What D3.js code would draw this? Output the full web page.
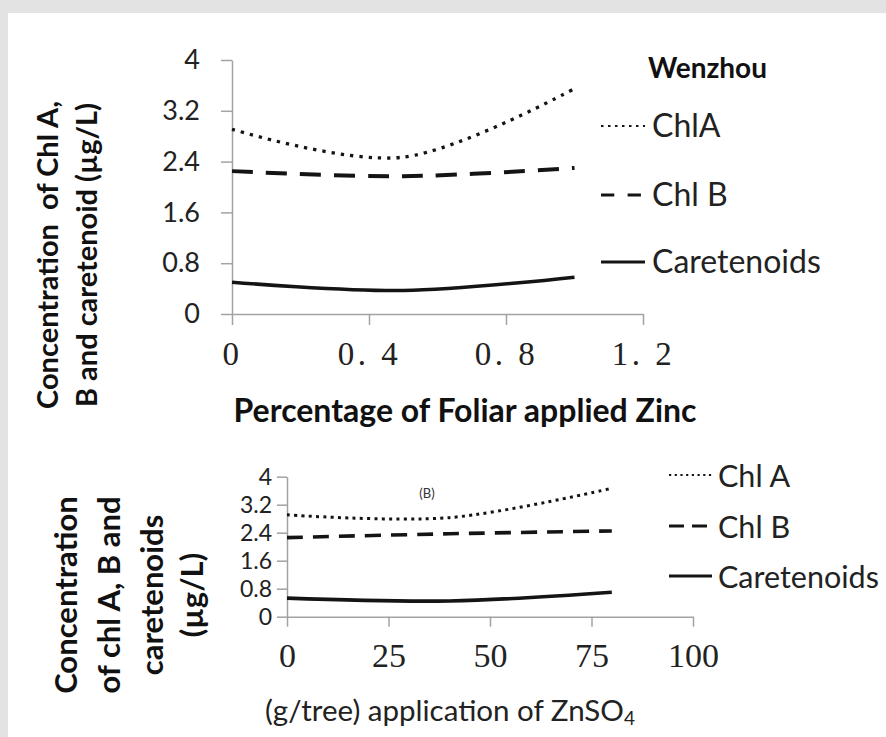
<!DOCTYPE html>
<html>
<head>
<meta charset="utf-8">
<script src="https://cdn.jsdelivr.net/npm/d3@7"></script>
<style>
  html, body { margin: 0; padding: 0; background: #e3e3e3; }
  svg { display: block; }
</style>
</head>
<body>
<svg id="fig" width="886" height="737"></svg>
<script>
// ---- Panel A: foliar zinc (%) ----
const zincPct = [0, 0.5, 1.0];
const chlA_A = [2.91, 2.47, 3.55];
const chlB_A = [2.25, 2.17, 2.30];
const car_A  = [0.50, 0.37, 0.58];
const xTicksA = [0, 0.4, 0.8, 1.2];
const xTickLabelsA = ["0", "0. 4", "0. 8", "1. 2"];
const legendA = ["ChlA", "Chl B", "Caretenoids"];

// ---- Panel B: ZnSO4 per tree (g) ----
const znso4 = [0, 40, 80];
const chlA_B = [2.91, 2.83, 3.67];
const chlB_B = [2.26, 2.37, 2.45];
const car_B  = [0.53, 0.45, 0.70];
const xTicksB = [0, 25, 50, 75, 100];
const legendB = ["Chl A", "Chl B", "Caretenoids"];

// shared concentration axis
const yTicks = [0, 0.8, 1.6, 2.4, 3.2, 4];
const yTickLabels = ["0", "0.8", "1.6", "2.4", "3.2", "4"];

const SANS = "Lato, 'Open Sans', sans-serif";
const SERIF = "'Liberation Serif', 'DejaVu Serif', serif";
const AXIS = "#a3a3a3";
const INK = "#141414";

const svg = d3.select("#fig");
svg.append("rect").attr("x", 8).attr("y", 13).attr("width", 878).attr("height", 724).attr("fill", "#fff");

function styleAxis(g, fontFamily, fontSize) {
  g.select(".domain").attr("stroke", AXIS).attr("stroke-width", 1.5);
  g.selectAll(".tick line").attr("stroke", AXIS).attr("stroke-width", 1.5);
  g.selectAll(".tick text").attr("fill", "#222").style("font-family", fontFamily).style("font-size", fontSize + "px");
}

function drawSeries(g, x, y, xs, series, st) {
  const line = d3.line().x(d => x(d[0])).y(d => y(d[1])).curve(d3.curveCardinal.tension(0));
  series.forEach((vals, i) => {
    const p = g.append("path")
      .datum(xs.map((v, k) => [v, vals[k]]))
      .attr("d", line)
      .attr("fill", "none")
      .attr("stroke", INK)
      .attr("stroke-width", st[i].width);
    if (st[i].dash) p.attr("stroke-dasharray", st[i].dash);
  });
}

// ================= Panel A =================
const xA = d3.scaleLinear().domain([0, 1.2]).range([232, 643]);
const yA = d3.scaleLinear().domain([0, 4]).range([314, 60]);
const gA = svg.append("g");

gA.append("g").attr("transform", `translate(${xA(0)},0)`)
  .call(d3.axisLeft(yA).tickValues(yTicks).tickSize(11).tickSizeOuter(0).tickPadding(21)
    .tickFormat((d, i) => yTickLabels[i]))
  .call(g => styleAxis(g, SANS, 27));

gA.append("g").attr("transform", `translate(0,${yA(0)})`)
  .call(d3.axisBottom(xA).tickValues(xTicksA).tickSize(11).tickSizeOuter(0).tickPadding(17)
    .tickFormat((d, i) => xTickLabelsA[i]))
  .call(g => styleAxis(g, SERIF, 33))
  .call(g => g.selectAll(".tick text").style("white-space", "pre").attr("letter-spacing", 3.5));

drawSeries(gA, xA, yA, zincPct, [chlA_A, chlB_A, car_A], [
  { dash: "3.3 6", width: 3.3 },
  { dash: "21 13", width: 4 },
  { dash: null, width: 3.6 }
]);

// legend A
gA.append("text").attr("x", 648).attr("y", 78).text("Wenzhou")
  .style("font-family", SANS).style("font-weight", 700).style("font-size", "28px").attr("fill", "#111");
const legA = [
  { y: 126, dash: "2.5 4.5", w: 2.2 },
  { y: 195, dash: "13.3 13.3", w: 3 },
  { y: 262, dash: null, w: 3 }
];
legA.forEach((L, i) => {
  const ln = gA.append("line").attr("x1", 601).attr("x2", 645).attr("y1", L.y).attr("y2", L.y)
    .attr("stroke", INK).attr("stroke-width", L.w);
  if (L.dash) ln.attr("stroke-dasharray", L.dash);
  gA.append("text").attr("x", 652).attr("y", L.y + 11).text(legendA[i])
    .style("font-family", SANS).style("font-size", "32px").attr("fill", "#222");
});

// axis titles A
const ytA = gA.append("g").attr("transform", "translate(0,255)");
[["Concentration\u00a0\u00a0of Chl A,", 58], ["B and caretenoid (\u00b5g/L)", 97]].forEach(([t, bx]) => {
  ytA.append("text").attr("transform", `translate(${bx},0) rotate(-90)`).attr("text-anchor", "middle")
    .text(t).style("font-family", SANS).style("font-weight", 700).style("font-size", "29px").attr("fill", "#111");
});
gA.append("text").attr("x", 465).attr("y", 422).attr("text-anchor", "middle")
  .text("Percentage of Foliar applied Zinc")
  .style("font-family", SANS).style("font-weight", 700).style("font-size", "32px").attr("fill", "#111");

// ================= Panel B =================
const xB = d3.scaleLinear().domain([0, 100]).range([287, 693]);
const yB = d3.scaleLinear().domain([0, 4]).range([616.7, 476.7]);
const gB = svg.append("g");

gB.append("g").attr("transform", `translate(${xB(0)},0)`)
  .call(d3.axisLeft(yB).tickValues(yTicks).tickSize(10).tickSizeOuter(0).tickPadding(5)
    .tickFormat((d, i) => yTickLabels[i]))
  .call(g => styleAxis(g, SANS, 23));

gB.append("g").attr("transform", `translate(0,${yB(0)})`)
  .call(d3.axisBottom(xB).tickValues(xTicksB).tickSize(10).tickSizeOuter(0).tickPadding(16))
  .call(g => styleAxis(g, SERIF, 34));

drawSeries(gB, xB, yB, znso4, [chlA_B, chlB_B, car_B], [
  { dash: "3 4.3", width: 3 },
  { dash: "16 10", width: 3.6 },
  { dash: null, width: 3.6 }
]);

gB.append("text").attr("x", 427).attr("y", 498).attr("text-anchor", "middle").text("(B)")
  .style("font-family", SANS).style("font-size", "13px").attr("fill", "#333");

const legB = [
  { y: 475, dash: "2.2 3.5", w: 2.2 },
  { y: 526, dash: "15 8", w: 3 },
  { y: 576, dash: null, w: 3 }
];
legB.forEach((L, i) => {
  const ln = gB.append("line").attr("x1", 669).attr("x2", 712).attr("y1", L.y).attr("y2", L.y)
    .attr("stroke", INK).attr("stroke-width", L.w);
  if (L.dash) ln.attr("stroke-dasharray", L.dash);
  gB.append("text").attr("x", 718).attr("y", L.y + 12).text(legendB[i])
    .style("font-family", SANS).style("font-size", "30.5px").attr("fill", "#222");
});

const ytB = gB.append("g").attr("transform", "translate(0,595)");
[["Concentration", 77], ["of chl A, B and", 120], ["caretenoids", 163], ["(\u00b5g/L)", 203]].forEach(([t, bx]) => {
  ytB.append("text").attr("transform", `translate(${bx},0) rotate(-90)`).attr("text-anchor", "middle")
    .text(t).style("font-family", SANS).style("font-weight", 700).style("font-size", "31px").attr("fill", "#111");
});

const xtB = gB.append("text").attr("x", 450).attr("y", 721).attr("text-anchor", "middle")
  .style("font-family", SANS).style("font-size", "29.5px").attr("fill", "#222");
xtB.append("tspan").text("(g/tree) application of ZnSO");
xtB.append("tspan").attr("font-size", "19px").attr("dy", 4).text("4");
</script>
</body>
</html>
